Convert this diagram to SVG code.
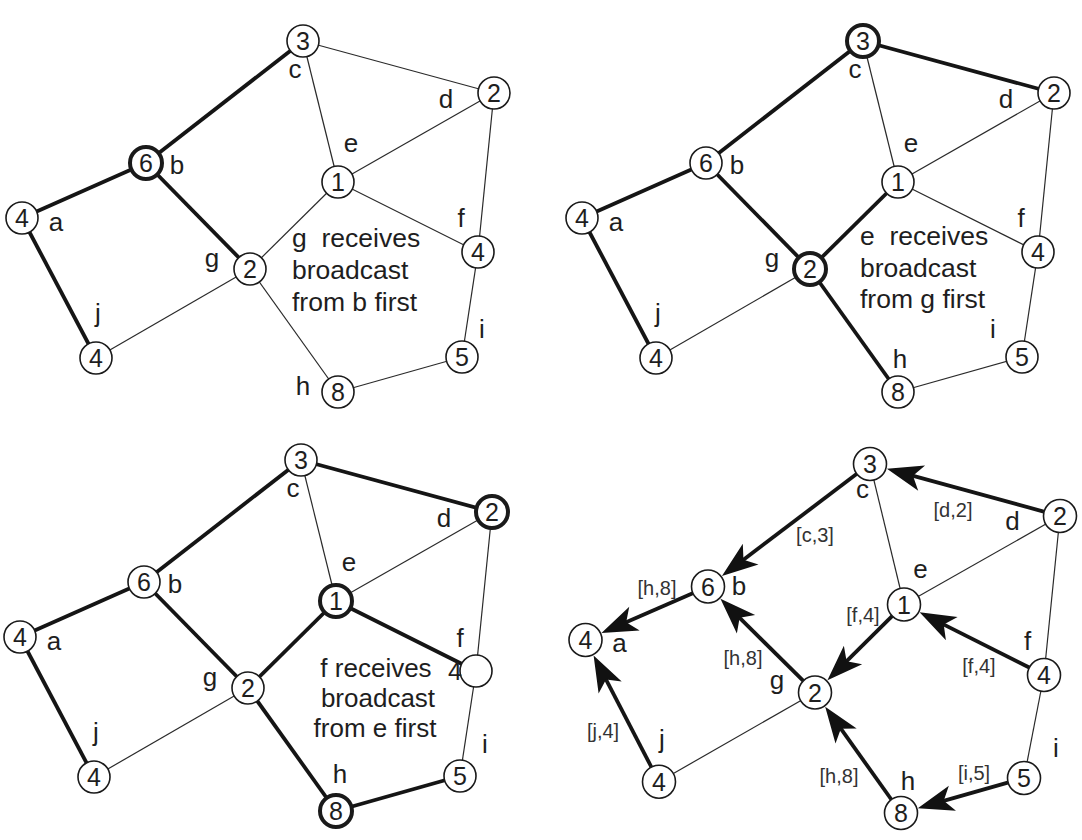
<svg xmlns="http://www.w3.org/2000/svg" width="1082" height="840" viewBox="0 0 1082 840">
<style>
text{font-family:"Liberation Sans",Arial,Helvetica,sans-serif;fill:#1e1e1e}
.thin{stroke:#2a2a2a;stroke-width:1.2;fill:none}
.thick{stroke:#151515;stroke-width:3.8;fill:none}
.arr{stroke:#151515;stroke-width:3.8;fill:none;marker-end:url(#ah)}
.node circle{fill:#fff;stroke:#1a1a1a;stroke-width:1.6}
.node.bold circle{stroke-width:4}
.num{font-size:25px;text-anchor:middle}
.lbl{font-size:26px;text-anchor:middle}
.cap{font-size:26.5px}
.capm{font-size:26px;text-anchor:middle}
.elab{font-size:20px;text-anchor:middle;fill:#333}
</style>
<defs>
<marker id="ah" markerUnits="userSpaceOnUse" viewBox="-22 -14 38 28" refX="0" refY="0" markerWidth="38" markerHeight="28" orient="auto" overflow="visible">
<path d="M15,0 L-21,-13 L-12,0 L-21,13 Z" fill="#111"/>
</marker>
</defs>

<!-- ===== Panel 1 ===== -->
<g id="panel1">
<g id="p1-edges">
<line class="thick" x1="22" y1="218" x2="146" y2="163"/>
<line class="thick" x1="146" y1="163" x2="303" y2="41"/>
<line class="thick" x1="146" y1="163" x2="250" y2="269"/>
<line class="thick" x1="22" y1="218" x2="96" y2="358"/>
<line class="thin" x1="303" y1="41" x2="494" y2="93"/>
<line class="thin" x1="303" y1="41" x2="338" y2="182"/>
<line class="thin" x1="494" y1="93" x2="338" y2="182"/>
<line class="thin" x1="494" y1="93" x2="478" y2="252"/>
<line class="thin" x1="338" y1="182" x2="478" y2="252"/>
<line class="thin" x1="338" y1="182" x2="250" y2="269"/>
<line class="thin" x1="250" y1="269" x2="96" y2="358"/>
<line class="thin" x1="250" y1="269" x2="338" y2="392"/>
<line class="thin" x1="478" y1="252" x2="462" y2="357"/>
<line class="thin" x1="462" y1="357" x2="338" y2="392"/>
</g>
<g id="p1-a" class="node"><circle cx="22" cy="218" r="16"/><text class="num" x="22" y="227">4</text><text class="lbl" x="56" y="231">a</text></g>
<g id="p1-b" class="node bold"><circle cx="146" cy="163" r="16"/><text class="num" x="146" y="172">6</text><text class="lbl" x="177" y="174">b</text></g>
<g id="p1-c" class="node"><circle cx="303" cy="41" r="16"/><text class="num" x="303" y="50">3</text><text class="lbl" x="295" y="78">c</text></g>
<g id="p1-d" class="node"><circle cx="494" cy="93" r="16"/><text class="num" x="494" y="102">2</text><text class="lbl" x="446" y="108">d</text></g>
<g id="p1-e" class="node"><circle cx="338" cy="182" r="16"/><text class="num" x="338" y="191">1</text><text class="lbl" x="351" y="152">e</text></g>
<g id="p1-f" class="node"><circle cx="478" cy="252" r="16"/><text class="num" x="478" y="261">4</text><text class="lbl" x="461" y="227">f</text></g>
<g id="p1-g" class="node"><circle cx="250" cy="269" r="16"/><text class="num" x="250" y="278">2</text><text class="lbl" x="212" y="267">g</text></g>
<g id="p1-h" class="node"><circle cx="338" cy="392" r="16"/><text class="num" x="338" y="401">8</text><text class="lbl" x="303" y="395">h</text></g>
<g id="p1-i" class="node"><circle cx="462" cy="357" r="16"/><text class="num" x="462" y="366">5</text><text class="lbl" x="482" y="338">i</text></g>
<g id="p1-j" class="node"><circle cx="96" cy="358" r="16"/><text class="num" x="96" y="367">4</text><text class="lbl" x="98" y="322">j</text></g>
<g id="p1-caption">
<text class="cap" x="292" y="247" xml:space="preserve">g  receives</text>
<text class="cap" x="292" y="279">broadcast</text>
<text class="cap" x="292" y="311">from b first</text>
</g>
</g>

<!-- ===== Panel 2 ===== -->
<g id="panel2" transform="translate(560,0)">
<g id="p2-edges">
<line class="thick" x1="22" y1="218" x2="146" y2="163"/>
<line class="thick" x1="146" y1="163" x2="303" y2="41"/>
<line class="thick" x1="146" y1="163" x2="250" y2="269"/>
<line class="thick" x1="22" y1="218" x2="96" y2="358"/>
<line class="thick" x1="303" y1="41" x2="494" y2="93"/>
<line class="thin" x1="303" y1="41" x2="338" y2="182"/>
<line class="thin" x1="494" y1="93" x2="338" y2="182"/>
<line class="thin" x1="494" y1="93" x2="478" y2="252"/>
<line class="thin" x1="338" y1="182" x2="478" y2="252"/>
<line class="thick" x1="338" y1="182" x2="250" y2="269"/>
<line class="thin" x1="250" y1="269" x2="96" y2="358"/>
<line class="thick" x1="250" y1="269" x2="338" y2="392"/>
<line class="thin" x1="478" y1="252" x2="462" y2="357"/>
<line class="thin" x1="462" y1="357" x2="338" y2="392"/>
</g>
<g id="p2-a" class="node"><circle cx="22" cy="218" r="16"/><text class="num" x="22" y="227">4</text><text class="lbl" x="56" y="231">a</text></g>
<g id="p2-b" class="node"><circle cx="146" cy="163" r="16"/><text class="num" x="146" y="172">6</text><text class="lbl" x="177" y="174">b</text></g>
<g id="p2-c" class="node bold"><circle cx="303" cy="41" r="16"/><text class="num" x="303" y="50">3</text><text class="lbl" x="295" y="78">c</text></g>
<g id="p2-d" class="node"><circle cx="494" cy="93" r="16"/><text class="num" x="494" y="102">2</text><text class="lbl" x="446" y="108">d</text></g>
<g id="p2-e" class="node"><circle cx="338" cy="182" r="16"/><text class="num" x="338" y="191">1</text><text class="lbl" x="351" y="152">e</text></g>
<g id="p2-f" class="node"><circle cx="478" cy="252" r="16"/><text class="num" x="478" y="261">4</text><text class="lbl" x="461" y="227">f</text></g>
<g id="p2-g" class="node bold"><circle cx="250" cy="269" r="16"/><text class="num" x="250" y="278">2</text><text class="lbl" x="212" y="267">g</text></g>
<g id="p2-h" class="node"><circle cx="338" cy="392" r="16"/><text class="num" x="338" y="401">8</text><text class="lbl" x="340" y="368">h</text></g>
<g id="p2-i" class="node"><circle cx="462" cy="357" r="16"/><text class="num" x="462" y="366">5</text><text class="lbl" x="433" y="338">i</text></g>
<g id="p2-j" class="node"><circle cx="96" cy="358" r="16"/><text class="num" x="96" y="367">4</text><text class="lbl" x="98" y="322">j</text></g>
<g id="p2-caption">
<text class="cap" x="300" y="245" xml:space="preserve">e  receives</text>
<text class="cap" x="300" y="277">broadcast</text>
<text class="cap" x="300" y="308">from g first</text>
</g>
</g>

<!-- ===== Panel 3 ===== -->
<g id="panel3" transform="translate(-2,419)">
<g id="p3-edges">
<line class="thick" x1="22" y1="218" x2="146" y2="163"/>
<line class="thick" x1="146" y1="163" x2="303" y2="41"/>
<line class="thick" x1="146" y1="163" x2="250" y2="269"/>
<line class="thick" x1="22" y1="218" x2="96" y2="358"/>
<line class="thick" x1="303" y1="41" x2="494" y2="93"/>
<line class="thin" x1="303" y1="41" x2="338" y2="182"/>
<line class="thin" x1="494" y1="93" x2="338" y2="182"/>
<line class="thin" x1="494" y1="93" x2="478" y2="252"/>
<line class="thick" x1="338" y1="182" x2="478" y2="252"/>
<line class="thick" x1="338" y1="182" x2="250" y2="269"/>
<line class="thin" x1="250" y1="269" x2="96" y2="358"/>
<line class="thick" x1="250" y1="269" x2="338" y2="392"/>
<line class="thin" x1="478" y1="252" x2="462" y2="357"/>
<line class="thick" x1="462" y1="357" x2="338" y2="392"/>
</g>
<g id="p3-a" class="node"><circle cx="22" cy="218" r="16"/><text class="num" x="22" y="227">4</text><text class="lbl" x="56" y="231">a</text></g>
<g id="p3-b" class="node"><circle cx="146" cy="163" r="16"/><text class="num" x="146" y="172">6</text><text class="lbl" x="177" y="174">b</text></g>
<g id="p3-c" class="node"><circle cx="303" cy="41" r="16"/><text class="num" x="303" y="50">3</text><text class="lbl" x="295" y="78">c</text></g>
<g id="p3-d" class="node bold"><circle cx="494" cy="93" r="16"/><text class="num" x="494" y="102">2</text><text class="lbl" x="446" y="108">d</text></g>
<g id="p3-e" class="node bold"><circle cx="338" cy="182" r="16"/><text class="num" x="338" y="191">1</text><text class="lbl" x="351" y="152">e</text></g>
<g id="p3-f" class="node"><circle cx="478" cy="252" r="16"/><text class="num" x="457" y="261">4</text><text class="lbl" x="462" y="228">f</text></g>
<g id="p3-g" class="node"><circle cx="250" cy="269" r="16"/><text class="num" x="250" y="278">2</text><text class="lbl" x="212" y="267">g</text></g>
<g id="p3-h" class="node bold"><circle cx="338" cy="392" r="16"/><text class="num" x="338" y="401">8</text><text class="lbl" x="342" y="364">h</text></g>
<g id="p3-i" class="node"><circle cx="462" cy="357" r="16"/><text class="num" x="462" y="366">5</text><text class="lbl" x="487" y="334">i</text></g>
<g id="p3-j" class="node"><circle cx="96" cy="358" r="16"/><text class="num" x="96" y="367">4</text><text class="lbl" x="98" y="322">j</text></g>
<g id="p3-caption">
<text class="capm" x="378" y="258">f receives</text>
<text class="capm" x="380" y="288">broadcast</text>
<text class="capm" x="377" y="318">from e first</text>
</g>
</g>

<!-- ===== Panel 4 ===== -->
<g id="panel4">
<g id="p4-edges">
<line class="thin" x1="870" y1="464" x2="904" y2="604.5"/>
<line class="thin" x1="1060" y1="516" x2="904" y2="604.5"/>
<line class="thin" x1="1060" y1="516" x2="1044" y2="675"/>
<line class="thin" x1="1044" y1="675" x2="1024" y2="778"/>
<line class="thin" x1="815" y1="692.5" x2="659" y2="781.7"/>
<line class="arr" x1="1044.6" y1="511.8" x2="901.4" y2="472.6"/>
<line class="arr" x1="857.2" y1="473.6" x2="733.9" y2="566.9"/>
<line class="arr" x1="693.3" y1="592.9" x2="615.2" y2="627"/>
<line class="arr" x1="651.6" y1="767.5" x2="600.5" y2="668.8"/>
<line class="arr" x1="803.6" y1="681.2" x2="731.1" y2="609.4"/>
<line class="arr" x1="892.6" y1="615.7" x2="838.1" y2="669.7"/>
<line class="arr" x1="1029.7" y1="667.8" x2="933" y2="619.1"/>
<line class="arr" x1="891.7" y1="800" x2="833.9" y2="718.9"/>
<line class="arr" x1="1008.6" y1="782.4" x2="932.2" y2="804.1"/>
</g>
<g id="p4-edge-labels">
<text class="elab" x="953" y="517">[d,2]</text>
<text class="elab" x="815" y="542">[c,3]</text>
<text class="elab" x="657" y="595">[h,8]</text>
<text class="elab" x="863" y="622">[f,4]</text>
<text class="elab" x="743" y="665">[h,8]</text>
<text class="elab" x="979" y="673">[f,4]</text>
<text class="elab" x="603" y="738">[j,4]</text>
<text class="elab" x="974" y="780">[i,5]</text>
<text class="elab" x="839" y="783">[h,8]</text>
</g>
<g id="p4-a" class="node"><circle cx="585.5" cy="640" r="16.5"/><text class="num" x="585.5" y="649">4</text><text class="lbl" x="619.5" y="651.5">a</text></g>
<g id="p4-b" class="node"><circle cx="708" cy="586.5" r="16.5"/><text class="num" x="708" y="595.5">6</text><text class="lbl" x="739" y="595">b</text></g>
<g id="p4-c" class="node"><circle cx="870" cy="464" r="16.5"/><text class="num" x="870" y="473">3</text><text class="lbl" x="862.5" y="498">c</text></g>
<g id="p4-d" class="node"><circle cx="1060" cy="516" r="16.5"/><text class="num" x="1060" y="525">2</text><text class="lbl" x="1012.5" y="530">d</text></g>
<g id="p4-e" class="node"><circle cx="904" cy="604.5" r="16.5"/><text class="num" x="904" y="613.5">1</text><text class="lbl" x="920.5" y="578">e</text></g>
<g id="p4-f" class="node"><circle cx="1044" cy="675" r="16.5"/><text class="num" x="1044" y="684">4</text><text class="lbl" x="1027.5" y="650">f</text></g>
<g id="p4-g" class="node"><circle cx="815" cy="692.5" r="16.5"/><text class="num" x="815" y="701.5">2</text><text class="lbl" x="777" y="689">g</text></g>
<g id="p4-h" class="node"><circle cx="901" cy="813" r="16.5"/><text class="num" x="901" y="822">8</text><text class="lbl" x="908" y="790">h</text></g>
<g id="p4-i" class="node"><circle cx="1024" cy="778" r="16.5"/><text class="num" x="1024" y="787">5</text><text class="lbl" x="1056" y="756.5">i</text></g>
<g id="p4-j" class="node"><circle cx="659" cy="781.7" r="16.5"/><text class="num" x="659" y="790.7">4</text><text class="lbl" x="662" y="748">j</text></g>
</g>
</svg>
